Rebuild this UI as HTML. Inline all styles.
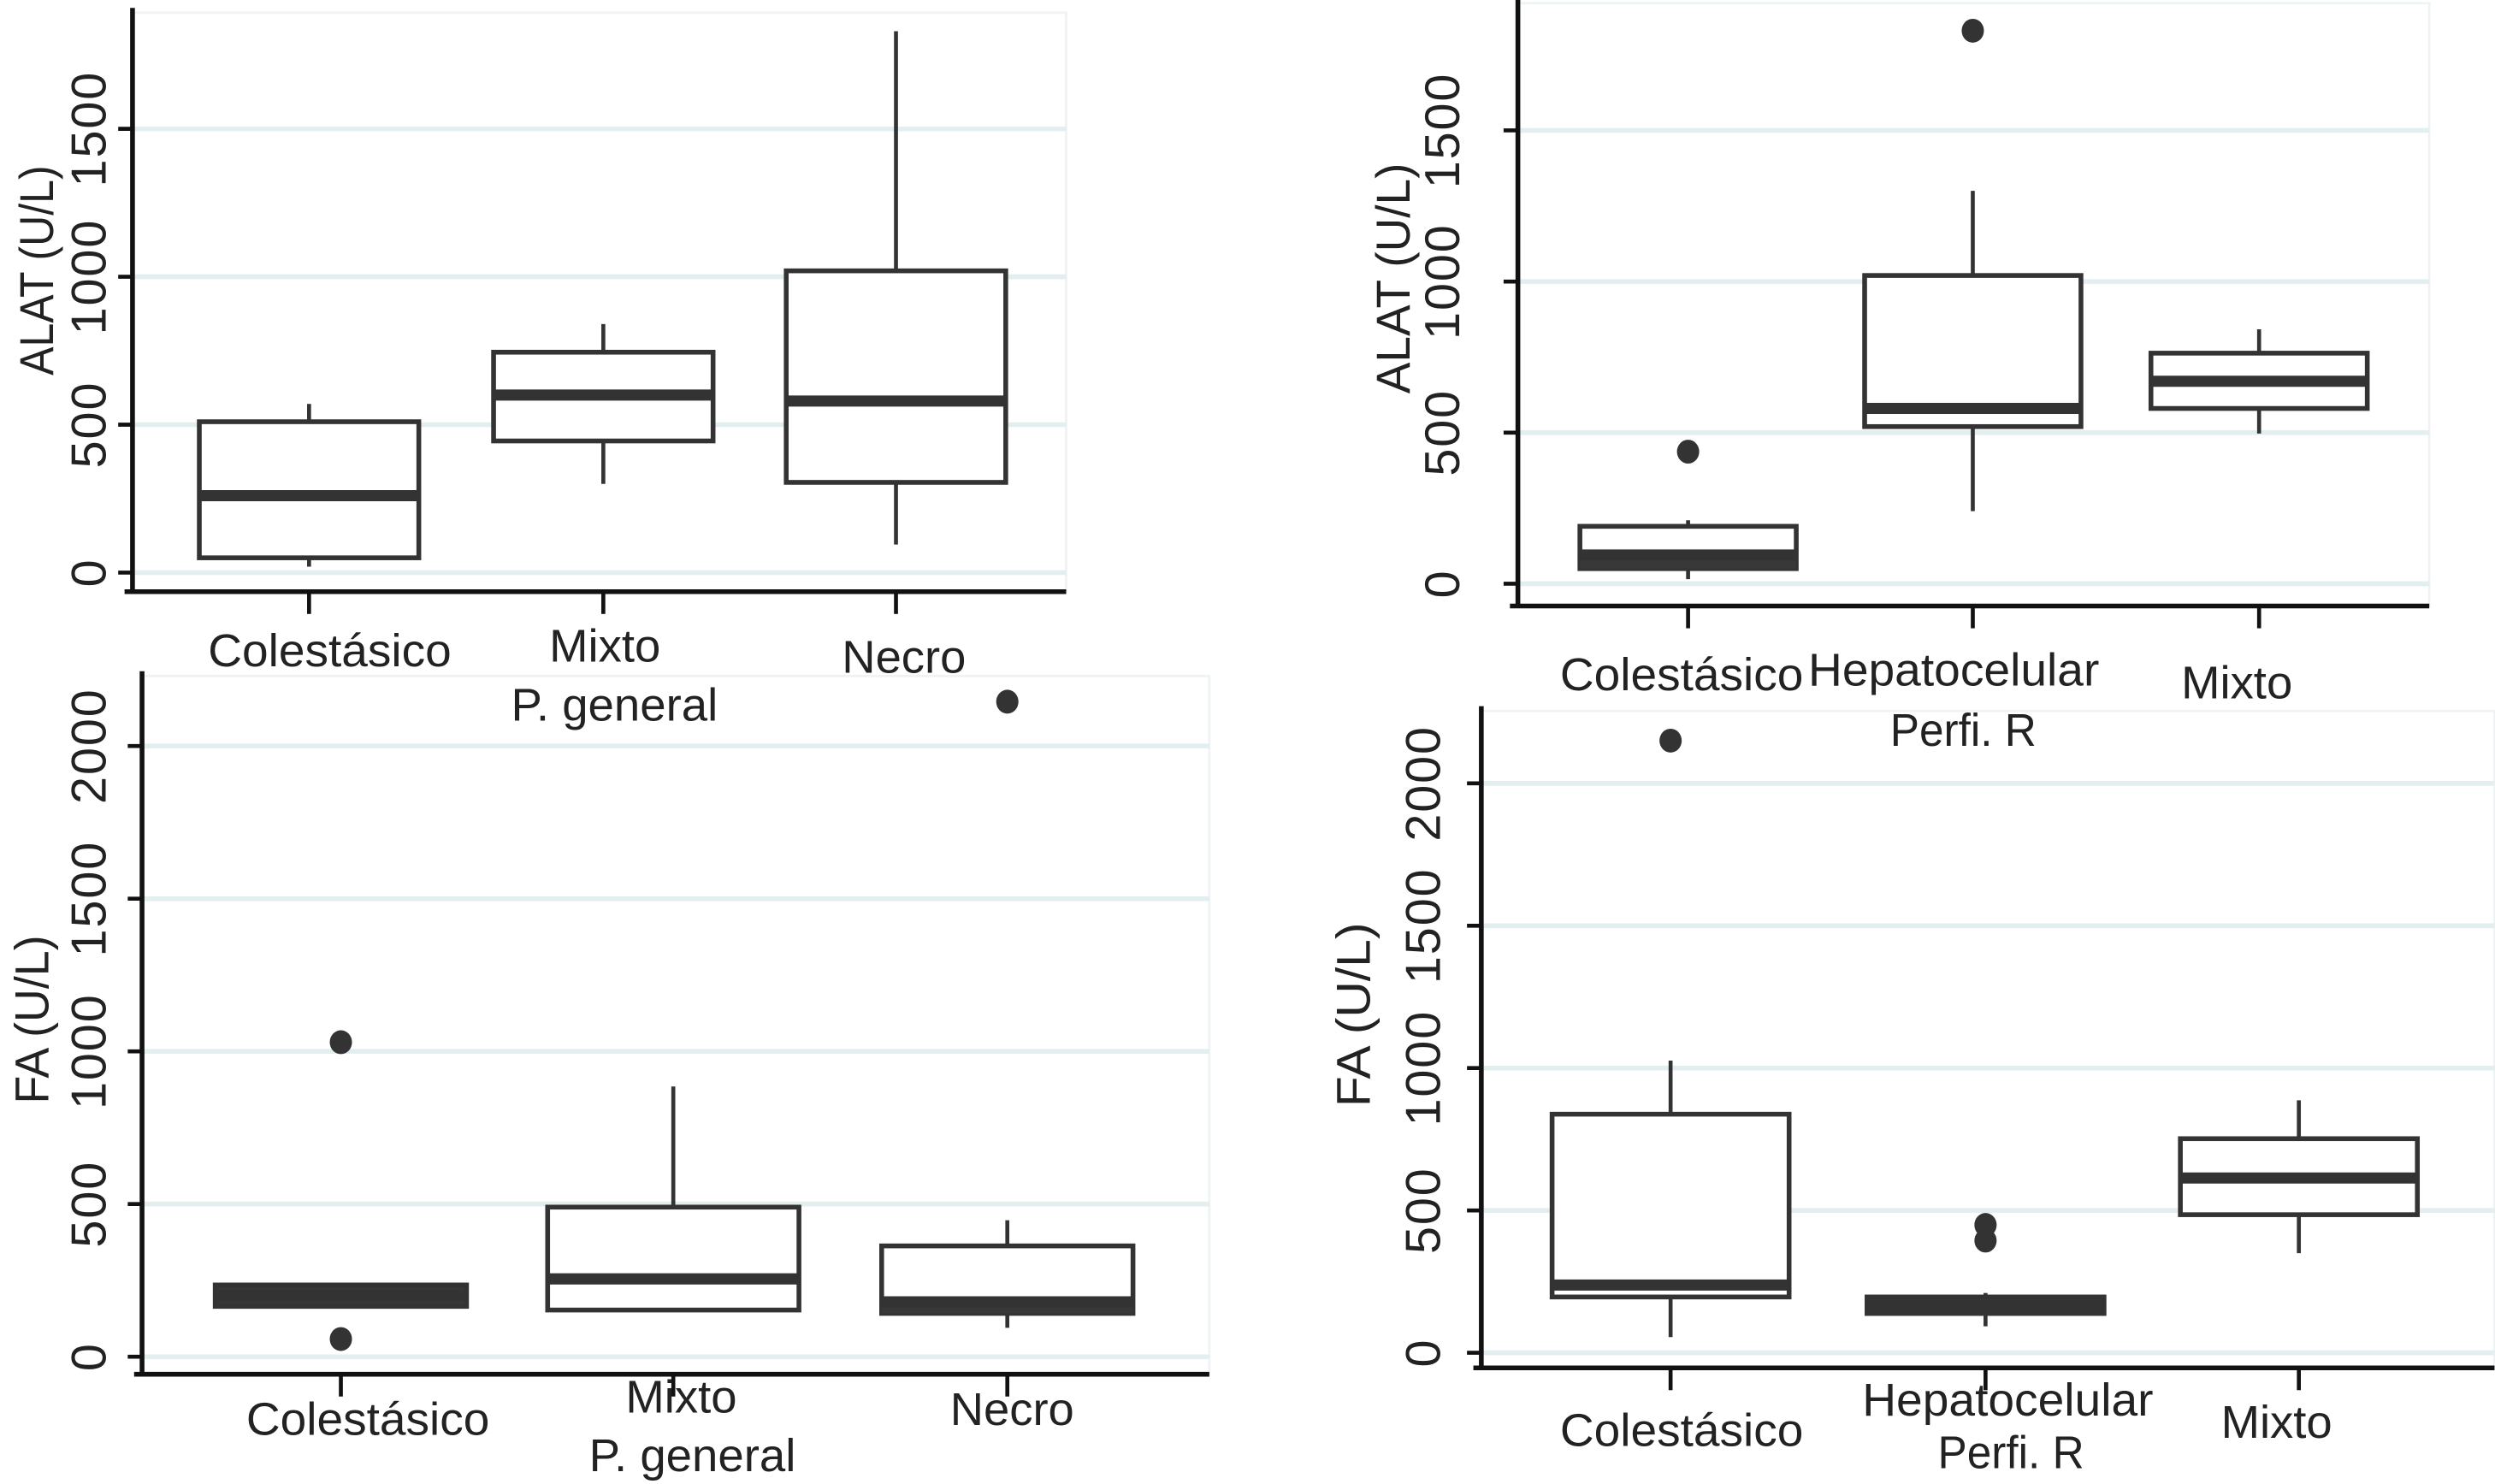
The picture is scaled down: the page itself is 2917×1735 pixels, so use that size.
<!DOCTYPE html>
<html><head><meta charset="utf-8">
<style>html,body{margin:0;padding:0;background:#fff}svg{display:block}</style>
</head><body>
<svg id="chart" width="2917" height="1735" viewBox="0 0 1568 933" xmlns="http://www.w3.org/2000/svg" font-family="'Liberation Sans', Arial, sans-serif"></svg>
<script>
// ---- data ----
const p1Cats = ["Colestásico", "Mixto", "Necro"];
const p1Q1 = [50, 445, 305];
const p1Med = [260, 600, 580];
const p1Q3 = [510, 745, 1020];
const p1Lo = [20, 300, 95];
const p1Hi = [570, 840, 1830];
const p1Out = [[], [], []];

const p2Cats = ["Colestásico", "Hepatocelular", "Mixto"];
const p2Q1 = [50, 520, 580];
const p2Med = [95, 580, 670];
const p2Q3 = [190, 1020, 763];
const p2Lo = [15, 240, 497];
const p2Hi = [210, 1300, 842];
const p2Out = [[437], [1830], []];

const p3Cats = ["Colestásico", "Mixto", "Necro"];
const p3Q1 = [165, 153, 142];
const p3Med = [200, 255, 180];
const p3Q3 = [235, 490, 363];
const p3Lo = [165, 153, 95];
const p3Hi = [235, 885, 447];
const p3Out = [[58, 1030], [], [2145]];

const p4Cats = ["Colestásico", "Hepatocelular", "Mixto"];
const p4Q1 = [196, 138, 485];
const p4Med = [238, 165, 614];
const p4Q3 = [838, 196, 752];
const p4Lo = [55, 93, 350];
const p4Hi = [1026, 210, 887];
const p4Out = [[2150], [449, 394], []];

const ticksALAT = [0, 500, 1000, 1500];
const ticksFA = [0, 500, 1000, 1500, 2000];

// ---- layout ----
const svg = document.getElementById('chart');
const NS = 'http://www.w3.org/2000/svg';
function mk(tag, attrs, parent) {
  const e = document.createElementNS(NS, tag);
  for (const k in attrs) e.setAttribute(k, attrs[k]);
  (parent || svg).appendChild(e);
  return e;
}

const panels = [
  {id:'p1', cats:p1Cats, q1:p1Q1, med:p1Med, q3:p1Q3, lo:p1Lo, hi:p1Hi, out:p1Out, ticks:ticksALAT,
   axX:83, axY:372, top:8, right:670, y0:360, y500:267, xs:[194,379,563], bw:138, title:'ALAT (U/L)', titleX:33, titleY:170, titleLen:132, tickLX:66,
   dark:[false,false,false], band:[0,0,0],
   labels:[['Colestásico',207,419,153],['Mixto',380,416,70],['Necro',568,423,78],['P. general',386,453,130]]},
  {id:'p2', cats:p2Cats, q1:p2Q1, med:p2Med, q3:p2Q3, lo:p2Lo, hi:p2Hi, out:p2Out, ticks:ticksALAT,
   axX:954, axY:381, top:2, right:1527, y0:367, y500:272, xs:[1061,1240,1420], bw:136, title:'ALAT (U/L)', titleX:886, titleY:175, titleLen:145, tickLX:917,
   dark:[false,false,false], band:[1,0,0],
   labels:[['Colestásico',1057,434,153],['Hepatocelular',1228,431,183],['Mixto',1406,439,70],['Perfi. R',1234,469,92]]},
  {id:'p3', cats:p3Cats, q1:p3Q1, med:p3Med, q3:p3Q3, lo:p3Lo, hi:p3Hi, out:p3Out, ticks:ticksFA,
   axX:89, axY:864, top:425, right:760, y0:853, y500:757, xs:[214,423,633], bw:158, title:'FA  (U/L)', titleX:30, titleY:641, titleLen:106, tickLX:66,
   dark:[true,false,false], band:[0,0,1],
   labels:[['Colestásico',231,902,153],['Mixto',428,888,70],['Necro',636,896,78],['P. general',435,925,130]]},
  {id:'p4', cats:p4Cats, q1:p4Q1, med:p4Med, q3:p4Q3, lo:p4Lo, hi:p4Hi, out:p4Out, ticks:ticksFA,
   axX:931, axY:860, top:447, right:1568, y0:850.5, y500:761, xs:[1050,1248,1445], bw:149, title:'FA  (U/L)', titleX:861, titleY:638, titleLen:116, tickLX:905,
   dark:[false,true,false], band:[0,0,0],
   labels:[['Colestásico',1057,909,153],['Hepatocelular',1262,890,183],['Mixto',1431,904,70],['Perfi. R',1264,923,92]]}
];

panels.forEach(P => {
  const g = mk('g', {});
  
  
  const yS = v => P.y0 - (P.y0 - P.y500) * v / 500;
  const fr = mk('rect', {x:P.axX, y:P.top, width:P.right-P.axX, height:P.axY-P.top, fill:'none', stroke:'#eef3f4', 'stroke-width':1.5}, g);
  
  
  P.ticks.forEach(t => {
    const y = yS(t);
    const gl = mk('line', {x1:P.axX, x2:P.right, y1:y, y2:y, stroke:'#e3eef0', 'stroke-width':3}, g);
    
    
    const tk = mk('line', {x1:P.axX-9, x2:P.axX, y1:y, y2:y, stroke:'#111', 'stroke-width':2.5}, g);
    
    
    const tl = mk('text', {x:0, y:0, 'font-size':31, fill:'#222', 'text-anchor':'middle', 'letter-spacing':1, transform:`translate(${P.tickLX},${y}) rotate(-90)`}, g);
    tl.textContent = t;
    
    
  });
  const ya = mk('line', {x1:P.axX, x2:P.axX, y1:P.top-3, y2:P.axY+1, stroke:'#111', 'stroke-width':3}, g);
  
  
  const xa = mk('line', {x1:P.axX-5, x2:P.right, y1:P.axY, y2:P.axY, stroke:'#111', 'stroke-width':3}, g);
  
  
  const yt = mk('text', {x:0, y:0, 'font-size':30, fill:'#222', 'text-anchor':'middle', textLength:P.titleLen, lengthAdjust:'spacingAndGlyphs', transform:`translate(${P.titleX},${P.titleY}) rotate(-90)`}, g);
  yt.textContent = P.title;
  
  
  P.cats.forEach((c, i) => {
    const cx = P.xs[i];
    const xt = mk('line', {x1:cx, x2:cx, y1:P.axY, y2:P.axY+14, stroke:'#111', 'stroke-width':2.5}, g);
    
    
    const bg = mk('g', {}, g);
    
    
    const wh = mk('line', {x1:cx, x2:cx, y1:yS(P.hi[i]), y2:yS(P.lo[i]), stroke:'#333', 'stroke-width':2.5}, bg);
    
    
    const bx = mk('rect', {x:cx-P.bw/2, y:yS(P.q3[i]), width:P.bw, height:Math.max(1, yS(P.q1[i])-yS(P.q3[i])), fill:P.dark[i]?'#383838':'#fff', stroke:'#333', 'stroke-width':3}, bg);
    
    
    if (P.band[i]) {
      const bd = mk('rect', {x:cx-P.bw/2, y:yS(P.med[i]), width:P.bw, height:Math.max(1, yS(P.q1[i])-yS(P.med[i])), fill:'#383838'}, bg);
      
      
    }
    const md = mk('line', {x1:cx-P.bw/2, x2:cx+P.bw/2, y1:yS(P.med[i]), y2:yS(P.med[i]), stroke:'#333', 'stroke-width':7}, bg);
    
    
    P.out[i].forEach(v => {
      const o = mk('ellipse', {cx:cx, cy:yS(v), rx:7, ry:7.5, fill:'#333'}, bg);
      
      
    });
  });
  P.labels.forEach(L => {
    const t = mk('text', {x:L[1], y:L[2], 'font-size':29, fill:'#222', 'text-anchor':'middle', textLength:L[3], lengthAdjust:'spacingAndGlyphs'}, g);
    t.textContent = L[0];
    
    
  });
});
</script>
</body></html>
